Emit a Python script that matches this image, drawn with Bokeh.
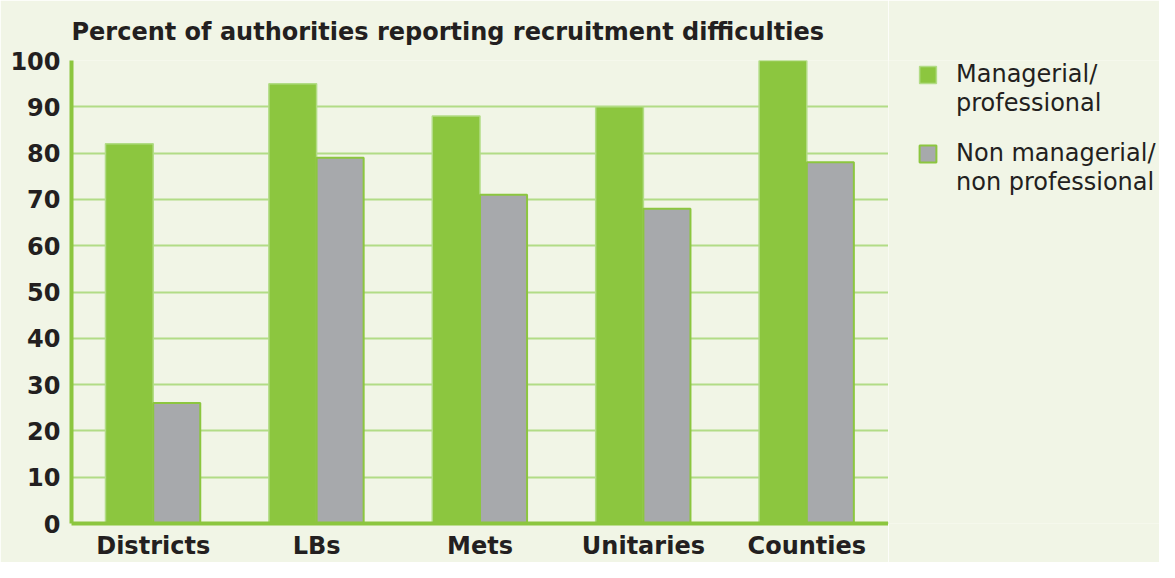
from bokeh.plotting import figure
from bokeh.layouts import row
from bokeh.models import FactorRange, Range1d, Legend, LegendItem, ColumnDataSource, FixedTicker
from bokeh.transform import dodge
from bokeh.embed import file_html
from bokeh.resources import INLINE

categories = ["Districts", "LBs", "Mets", "Unitaries", "Counties"]
managerial = [82, 95, 88, 90, 100]
non_managerial = [26, 79, 71, 68, 78]
series_lines = [["Managerial/", "professional"], ["Non managerial/", "non professional"]]
y_ticks = [0, 10, 20, 30, 40, 50, 60, 70, 80, 90, 100]

BG = "#f1f5e6"
GREEN = "#8cc63f"
GREY = "#a7a9ac"
LIGHT = "#b2dc86"
TEXT = "#231f20"
FONT = "DejaVu Sans"

src = ColumnDataSource(dict(cat=categories, m=managerial, n=non_managerial))

p = figure(x_range=FactorRange(*categories), y_range=Range1d(0, 100),
           width=888, height=562, output_backend="svg", toolbar_location=None,
           min_border_left=71, min_border_right=0, min_border_top=60, min_border_bottom=38,
           title="Percent of authorities reporting recruitment difficulties")

p.background_fill_color = BG
p.border_fill_color = BG
p.outline_line_color = None

p.title.text_font = FONT
p.title.text_font_style = "bold"
p.title.text_font_size = "24px"
p.title.text_color = TEXT
p.title.standoff = 29
p.title.offset = 0

r1 = p.vbar(x=dodge("cat", -0.146, range=p.x_range), top="m", width=0.292, source=src,
            fill_color=GREEN, line_color=LIGHT, line_width=1.5)
r2 = p.vbar(x=dodge("cat", 0.144, range=p.x_range), top="n", width=0.288, source=src,
            fill_color=GREY, line_color=GREEN, line_width=2)

p.xgrid.grid_line_color = None
p.ygrid.grid_line_color = LIGHT
p.ygrid.grid_line_width = 2
p.yaxis.ticker = FixedTicker(ticks=y_ticks)

for ax in (p.xaxis[0], p.yaxis[0]):
    ax.axis_line_color = GREEN
    ax.axis_line_width = 4
    ax.major_tick_line_color = None
    ax.minor_tick_line_color = None
    ax.major_label_text_font = FONT
    ax.major_label_text_font_style = "bold"
    ax.major_label_text_font_size = "24px"
    ax.major_label_text_color = TEXT
p.yaxis.major_label_standoff = 5
p.xaxis.major_label_standoff = 2

# legend panel
q = figure(width=271, height=562, x_range=Range1d(0, 1), y_range=Range1d(0, 1),
           x_axis_type=None, y_axis_type=None, output_backend="svg", toolbar_location=None,
           min_border=0, min_border_left=0, min_border_right=0, min_border_top=0, min_border_bottom=0)
q.background_fill_color = BG
q.border_fill_color = BG
q.outline_line_color = None

g1 = q.vbar(x=[-5], top=[0], width=0.1, fill_color=GREEN, line_color=LIGHT, line_width=1.5)
g2 = q.vbar(x=[-5], top=[0], width=0.1, fill_color=GREY, line_color=GREEN, line_width=2)
g0 = q.vbar(x=[-5], top=[0], width=0.1, fill_alpha=0, line_alpha=0)

def make_legend(lines, glyph, loc):
    lg = Legend(items=[LegendItem(label=lines[0], renderers=[glyph]),
                       LegendItem(label=lines[1], renderers=[g0])],
                location=loc, background_fill_alpha=0, border_line_color=None,
                glyph_width=21, glyph_height=21, label_text_font=FONT,
                label_text_font_size="24px", label_text_color=TEXT,
                spacing=1, padding=0, margin=0, label_standoff=18)
    q.add_layout(lg, "center")

make_legend(series_lines[0], g1, (29, 406))
make_legend(series_lines[1], g2, (29, 327))

layout = row(p, q, spacing=0)
open("out.html", "w").write(file_html(layout, INLINE))
